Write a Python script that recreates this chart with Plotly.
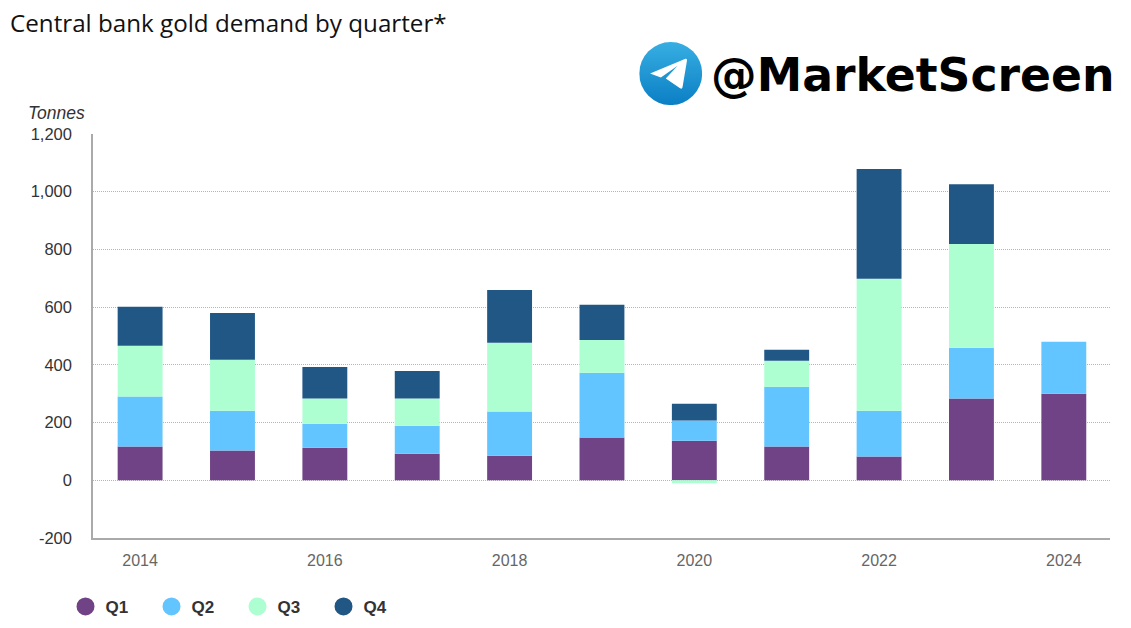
import base64
import plotly.graph_objects as go

years = [2014, 2015, 2016, 2017, 2018, 2019, 2020, 2021, 2022, 2023, 2024]
q1 = [117, 103, 113, 92, 85, 148, 137, 117, 82, 283, 300]
q2 = [173, 138, 83, 97, 153, 225, 70, 207, 159, 176, 180]
q3 = [176, 177, 87, 94, 239, 113, -10, 90, 457, 360, None]
q4 = [135, 162, 110, 96, 182, 122, 58, 38, 381, 207, None]
series_names = ["Q1", "Q2", "Q3", "Q4"]
series_values = [q1, q2, q3, q4]
series_colors = ["#704386", "#63C5FF", "#ADFFD2", "#205785"]
x_ticks = [2014, 2016, 2018, 2020, 2022, 2024]
y_ticks = [-200, 0, 200, 400, 600, 800, 1000, 1200]

W, H = 1131, 628
L, R, T, B = 92.5, 21, 134, 89.5
PW, PH = W - L - R, H - T - B

fig = go.Figure()
for n, v, c in zip(series_names, series_values, series_colors):
    fig.add_bar(x=years, y=v, name=n, marker=dict(color=c, line_width=0), width=0.486, showlegend=False)
for n, c in zip(series_names, series_colors):
    fig.add_scatter(x=[None], y=[None], mode="markers", name=n,
                    marker=dict(color=c, size=16, symbol="circle", line=dict(color=c, width=2)))

svg = """<svg xmlns='http://www.w3.org/2000/svg' viewBox='0 0 64 64' width='64' height='64'>
<defs><linearGradient id='g' x1='0' y1='0' x2='0' y2='1'><stop offset='0' stop-color='#37AEE2'/><stop offset='1' stop-color='#0B7FC4'/></linearGradient></defs>
<circle cx='32' cy='32' r='32' fill='url(#g)'/>
<path d='M11 32 L47 17 Q49 16.5 48.5 19 L44 46 Q43.5 48 41.5 47 L27 37 L39 24 L22 36 Z' fill='#fff'/>
</svg>"""
logo = "data:image/svg+xml;base64," + base64.b64encode(svg.encode()).decode()

paper_x = lambda px: (px - L) / PW
paper_y = lambda py: 1 - (py - T) / PH

fig.update_layout(
    width=W, height=H, autosize=False,
    margin=dict(l=L, r=R, t=T, b=B, pad=0, autoexpand=False),
    paper_bgcolor="#fff", plot_bgcolor="#fff",
    barmode="relative", bargap=0.5,
    font=dict(family="Liberation Sans, Arial, sans-serif", size=16, color="#333"),
    xaxis=dict(range=[2013.49, 2024.5], tickmode="array", tickvals=x_ticks,
               ticktext=[str(t) for t in x_ticks], ticks="", showgrid=False,
               showline=True, linecolor="#AAAAAA", linewidth=1.5, zeroline=False,
               tickfont=dict(size=16, color="#666666"), ticklabelstandoff=7),
    yaxis=dict(range=[-200, 1200], tickmode="array", tickvals=y_ticks,
               ticktext=[f"{t:,}" for t in y_ticks], ticks="", showgrid=True,
               gridcolor="#B5B5B5", griddash="1px,1px", gridwidth=1,
               showline=True, linecolor="#AAAAAA", linewidth=1.5, zeroline=False,
               tickfont=dict(size=16.5, color="#333333"), ticklabelstandoff=16),
    legend=dict(orientation="h", x=paper_x(65), y=paper_y(589.5), xanchor="left", yanchor="top",
                entrywidth=41, entrywidthmode="pixels", traceorder="normal",
                font=dict(size=17, color="#333333", family="Liberation Sans, Arial, sans-serif", weight="bold"),
                bgcolor="rgba(0,0,0,0)"),
    images=[dict(source=logo, xref="paper", yref="paper", x=paper_x(639), y=paper_y(42),
                 sizex=63 / PW, sizey=63 / PH, xanchor="left", yanchor="top", sizing="stretch", layer="above")],
    annotations=[
        dict(text="Central bank gold demand by quarter*", xref="paper", yref="paper",
             x=paper_x(7), y=paper_y(22.5), xanchor="left", yanchor="middle", showarrow=False,
             font=dict(family="Open Sans, sans-serif", size=24.2, color="#111111")),
        dict(text="<i>Tonnes</i>", xref="paper", yref="paper",
             x=paper_x(25), y=paper_y(113), xanchor="left", yanchor="middle", showarrow=False,
             font=dict(size=17.5, color="#333333")),
        dict(text="<b>@MarketScreen</b>", xref="paper", yref="paper",
             x=paper_x(912.5), y=paper_y(75), xanchor="center", yanchor="middle", showarrow=False,
             font=dict(family="DejaVu Sans, sans-serif", size=45.7, color="#000000")),
    ],
)

fig.write_html("out.html", config={"displayModeBar": False},
               post_script="document.body.style.margin='0';document.body.style.overflow='hidden';")
